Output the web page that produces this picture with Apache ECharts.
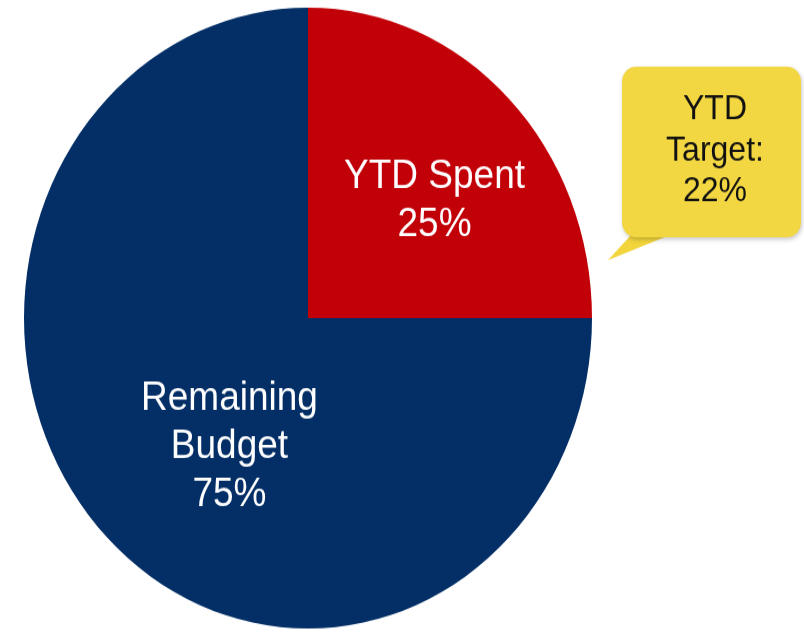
<!DOCTYPE html>
<html>
<head>
<meta charset="utf-8">
<title>YTD Budget</title>
<script src="https://cdn.jsdelivr.net/npm/echarts@6/dist/echarts.min.js"></script>
<style>
  html, body { margin: 0; padding: 0; background: #ffffff; }
  #frame { width: 804px; height: 634px; overflow: hidden; position: relative; }
  /* the chart is drawn slightly taller than wide, as in the slide it comes from */
  #chart { position: absolute; left: 0; top: 0; width: 804px; height: 580px; transform: scaleY(1.093); transform-origin: 0 0; }
</style>
</head>
<body>
<div id="frame"><div id="chart"></div></div>
<script>
// Budget split, in percent
const categories = ['YTD Spent', 'Remaining\nBudget'];
const shares = [25, 75];
const sliceColors = ['#C20008', '#032E66'];

// Year-to-date target shown in the callout, in percent
const targetLabel = 'YTD\nTarget:';
const targetValue = 22;

const FONT = '"Liberation Sans", Arial, Helvetica, sans-serif';

// nudges of the inside labels from their default spot
const labelShift = [[24, -5], [24, 15]];

const chart = echarts.init(document.getElementById('chart'), null, { renderer: 'canvas' });

chart.setOption({
  animation: false,
  backgroundColor: '#ffffff',
  series: [{
    type: 'pie',
    silent: true,
    center: [308, 291],
    radius: 284,
    startAngle: 90,
    clockwise: true,
    data: categories.map((c, i) => ({
      name: c,
      value: shares[i],
      itemStyle: { color: sliceColors[i] }
    })),
    itemStyle: { borderWidth: 0 },
    label: {
      show: true,
      position: 'inside',
      color: '#ffffff',
      fontFamily: FONT,
      fontSize: 37,
      lineHeight: 44,
      align: 'center',
      formatter: p => p.name + '\n' + p.value + '%'
    },
    labelLine: { show: false },
    labelLayout: p => ({ dx: labelShift[p.dataIndex][0], dy: labelShift[p.dataIndex][1] })
  }],
  graphic: [{
    type: 'group',
    silent: true,
    children: [
      {
        type: 'polygon',
        shape: { points: [[634, 212], [678, 212], [608, 238]] },
        style: { fill: '#F2D53C' }
      },
      {
        type: 'rect',
        shape: { x: 622, y: 61, width: 179, height: 156, r: 14 },
        style: {
          fill: '#F3D742',
          shadowBlur: 4,
          shadowOffsetX: 1,
          shadowOffsetY: 2,
          shadowColor: 'rgba(0,0,0,0.22)'
        }
      },
      {
        type: 'text',
        x: 715,
        y: 138,
        style: {
          text: targetLabel + '\n' + targetValue + '%',
          fill: '#111111',
          font: '32px ' + FONT,
          lineHeight: 37.5,
          align: 'center',
          verticalAlign: 'middle'
        }
      }
    ]
  }]
});
</script>
</body>
</html>
